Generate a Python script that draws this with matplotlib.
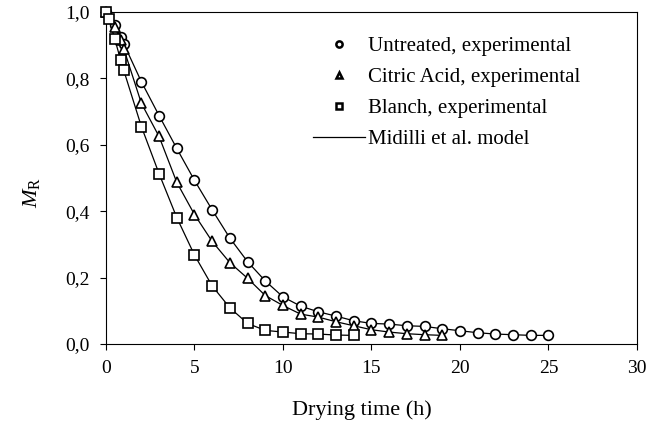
import matplotlib
matplotlib.use("Agg")
import matplotlib.pyplot as plt
from matplotlib.lines import Line2D
from matplotlib.ticker import FuncFormatter

plt.rcParams['font.family'] = 'Liberation Serif'
plt.rcParams['mathtext.fontset'] = 'custom'
plt.rcParams['mathtext.rm'] = 'Liberation Serif'
plt.rcParams['mathtext.it'] = 'Liberation Serif:italic'

# drying data
t_untreated = [0, 0.5, 0.83, 1, 2, 3, 4, 5, 6, 7, 8, 9, 10, 11, 12, 13, 14, 15, 16, 17,
               18, 19, 20, 21, 22, 23, 24, 25]
mr_untreated = [1.0, 0.96, 0.925, 0.905, 0.79, 0.688, 0.589, 0.493, 0.404, 0.319, 0.248,
                0.19, 0.142, 0.114, 0.097, 0.084, 0.07, 0.062, 0.06, 0.055, 0.053, 0.046,
                0.04, 0.034, 0.03, 0.028, 0.026, 0.026]

t_citric = [0, 0.5, 0.83, 1, 2, 3, 4, 5, 6, 7, 8, 9, 10, 11, 12, 13, 14, 15, 16, 17, 18, 19]
mr_citric = [1.0, 0.955, 0.915, 0.89, 0.725, 0.625, 0.487, 0.39, 0.309, 0.245, 0.198, 0.146,
             0.116, 0.09, 0.081, 0.067, 0.055, 0.043, 0.036, 0.031, 0.028, 0.026]

t_blanch = [0, 0.17, 0.5, 0.83, 1, 2, 3, 4, 5, 6, 7, 8, 9, 10, 11, 12, 13, 14]
mr_blanch = [1.0, 0.978, 0.918, 0.855, 0.825, 0.655, 0.513, 0.381, 0.268, 0.175, 0.109,
             0.062, 0.041, 0.036, 0.031, 0.03, 0.027, 0.026]

labels = ["Untreated, experimental", "Citric Acid, experimental",
          "Blanch, experimental", "Midilli et al. model"]

fig = plt.figure(figsize=(6.49, 4.36), dpi=100)
ax = fig.add_axes([0.1633, 0.211, 0.818, 0.7615])

series = [(t_untreated, mr_untreated, 'o'),
          (t_citric, mr_citric, '^'),
          (t_blanch, mr_blanch, 's')]
for t, mr, m in series:
    ax.plot(t, mr, '-', color='black', lw=0.9, zorder=2)
    ax.plot(t, mr, m, ls='none', ms=7, mfc='white', mec='black', mew=1.2, zorder=3,
            clip_on=False)

ax.set_xlim(0, 30)
ax.set_ylim(0, 1.0)
ax.set_xticks(range(0, 31, 5))
ax.set_yticks([0, 0.2, 0.4, 0.6, 0.8, 1.0])
ax.yaxis.set_major_formatter(FuncFormatter(lambda v, p: f"{v:.1f}".replace('.', ',')))
ax.tick_params(direction='out', length=4.5, width=0.8, pad=7, labelsize=14,
               top=False, right=False)
for s in ax.spines.values():
    s.set_linewidth(0.8)

ax.set_xlabel("Drying time (h)", fontsize=16)
ax.xaxis.set_label_coords(0.482, -0.17)
ax.set_ylabel(r"$M_\mathrm{R}$", fontsize=16)
ax.yaxis.set_label_coords(-0.12, 0.455)

handles = [Line2D([], [], ls='none', marker='o', ms=4.5, mfc='white', mec='black', mew=1.8),
           Line2D([], [], ls='none', marker='^', ms=4.5, mfc='white', mec='black', mew=1.8),
           Line2D([], [], ls='none', marker='s', ms=4.5, mfc='white', mec='black', mew=1.8),
           Line2D([], [], color='black', lw=0.9)]
ax.legend(handles, labels, loc='upper left', bbox_to_anchor=(0.39, 0.927), frameon=False,
          fontsize=15, handlelength=2.5, handletextpad=0.15, labelspacing=0.55,
          borderpad=0, borderaxespad=0)

fig.savefig("out.png", dpi=100)
